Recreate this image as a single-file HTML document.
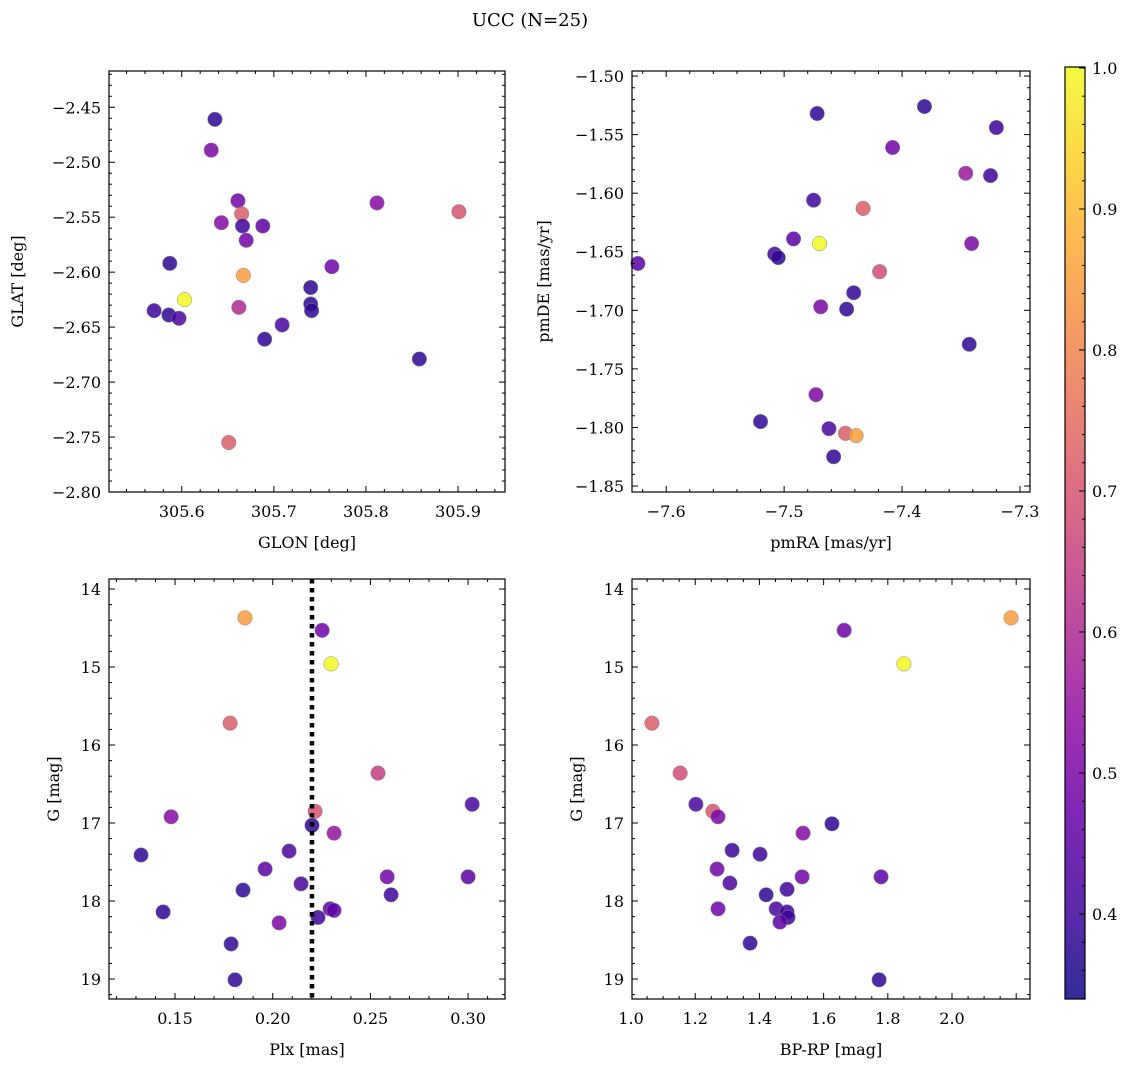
<!DOCTYPE html>
<html><head><meta charset="utf-8"><style>
body{margin:0;background:#fff;}
svg{display:block;font-family:"DejaVu Serif","Liberation Serif",serif;}
</style></head><body>
<svg id="fig" width="1136" height="1067" viewBox="0 0 1136 1067" xmlns="http://www.w3.org/2000/svg">
<defs><linearGradient id="plasma" x1="0" y1="1" x2="0" y2="0"></linearGradient></defs>
<text x="530" y="26" font-size="18" text-anchor="middle">UCC (N=25)</text>
</svg>
<script>
// Panel 1: GLON vs GLAT
const glon = [305.636,305.632,305.661,305.643,305.665,305.666,305.688,305.670,305.667,305.587,305.603,305.570,305.586,305.597,305.662,305.709,305.690,305.740,305.740,305.741,305.763,305.812,305.901,305.858,305.651];
const glat = [-2.461,-2.489,-2.535,-2.555,-2.547,-2.558,-2.558,-2.571,-2.603,-2.592,-2.625,-2.635,-2.639,-2.642,-2.632,-2.648,-2.661,-2.614,-2.629,-2.635,-2.595,-2.537,-2.545,-2.679,-2.755];
const prob1 = [0.38,0.5,0.48,0.52,0.72,0.4,0.45,0.48,0.85,0.38,1.0,0.4,0.38,0.42,0.6,0.42,0.38,0.38,0.38,0.38,0.48,0.52,0.7,0.38,0.72];
// Panel 2: pmRA vs pmDE
const pmra = [-7.472,-7.381,-7.320,-7.408,-7.346,-7.325,-7.475,-7.433,-7.470,-7.492,-7.508,-7.505,-7.341,-7.624,-7.419,-7.441,-7.447,-7.469,-7.343,-7.473,-7.520,-7.462,-7.448,-7.439,-7.458];
const pmde = [-1.532,-1.526,-1.544,-1.561,-1.583,-1.585,-1.606,-1.613,-1.643,-1.639,-1.652,-1.655,-1.643,-1.660,-1.667,-1.685,-1.699,-1.697,-1.729,-1.772,-1.795,-1.801,-1.805,-1.807,-1.825];
const prob2 = [0.38,0.38,0.4,0.48,0.56,0.4,0.4,0.72,1.0,0.45,0.4,0.38,0.5,0.45,0.68,0.38,0.38,0.5,0.38,0.5,0.38,0.42,0.72,0.85,0.38];
// Panel 3: Plx vs G
const plx = [0.1858,0.2253,0.2299,0.1782,0.2539,0.2217,0.1480,0.3021,0.2201,0.2314,0.1326,0.2084,0.1961,0.2145,0.1848,0.2586,0.3000,0.2606,0.1439,0.2294,0.2314,0.2232,0.2033,0.1787,0.1807];
const gmag3 = [14.37,14.53,14.96,15.72,16.36,16.85,16.92,16.76,17.03,17.13,17.41,17.36,17.59,17.78,17.86,17.69,17.69,17.92,18.14,18.10,18.12,18.21,18.28,18.55,19.01];
const prob3 = [0.85,0.48,1.0,0.72,0.65,0.7,0.52,0.42,0.38,0.55,0.38,0.42,0.45,0.42,0.38,0.48,0.45,0.4,0.38,0.45,0.45,0.4,0.5,0.38,0.38];
const plxMedian = 0.2201;
// Panel 4: BP-RP vs G
const bprp = [2.184,1.664,1.850,1.065,1.153,1.202,1.255,1.271,1.626,1.536,1.315,1.402,1.268,1.533,1.779,1.308,1.486,1.421,1.452,1.486,1.271,1.489,1.464,1.371,1.773];
const gmag4 = [14.37,14.53,14.96,15.72,16.36,16.76,16.85,16.92,17.01,17.13,17.35,17.40,17.59,17.69,17.69,17.77,17.85,17.92,18.10,18.14,18.10,18.21,18.27,18.54,19.01];
const prob4 = [0.85,0.48,1.0,0.72,0.68,0.42,0.7,0.5,0.38,0.52,0.4,0.4,0.48,0.48,0.45,0.42,0.4,0.38,0.42,0.4,0.48,0.4,0.45,0.38,0.38];
// Colorbar
const cbTicks = [0.4,0.5,0.6,0.7,0.8,0.9,1.0];
const vmin = 0.3397, vmax = 1.0007;

const NS = "http://www.w3.org/2000/svg";
const svg = document.getElementById('fig');
const plasma = [[13,8,135],[65,4,157],[106,0,168],[143,13,164],[177,42,144],[204,71,120],[225,100,98],[242,132,75],[252,166,54],[252,206,37],[240,249,33]];
function cmap(t){t=Math.max(0,Math.min(1,t));const f=t*10,i=Math.min(9,Math.floor(f)),r=f-i;const a=plasma[i],b=plasma[i+1];return `rgb(${a.map((v,k)=>Math.round(v+(b[k]-v)*r)).join(',')})`;}
function el(tag,attrs,parent){const e=document.createElementNS(NS,tag);for(const k in attrs)e.setAttribute(k,attrs[k]);(parent||svg).appendChild(e);return e;}
function fmt(v,d){const s=Math.abs(v).toFixed(d);return (v<-1e-9?'\u2212':'')+s;}

function panel(o){
  const g=el('g',{});
  
  
  const X=v=>o.x0+(v-o.xmin)/(o.xmax-o.xmin)*(o.x1-o.x0);
  const Y=v=>o.invert? o.y0+(v-o.ymin)/(o.ymax-o.ymin)*(o.y1-o.y0) : o.y1-(v-o.ymin)/(o.ymax-o.ymin)*(o.y1-o.y0);
  for(let i=0;i<o.xs.length;i++){
    const c=el('circle',{cx:X(o.xs[i]),cy:Y(o.ys[i]),r:7.3,fill:cmap((o.ps[i]-vmin)/(vmax-vmin)),'fill-opacity':0.85,stroke:'#888','stroke-width':0.5},g);
    
    
  }
  if(o.vline!==undefined){
    const l=el('line',{x1:X(o.vline),x2:X(o.vline),y1:o.y0,y2:o.y1,stroke:'#000','stroke-width':4.5,'stroke-dasharray':'4.5,4.5'},g);
    
    
  }
  const tg=el('g',{stroke:'#000','stroke-width':1},g);
  const eps=1e-9;
  for(let v=Math.ceil(o.xmin/o.xmi-eps)*o.xmi; v<=o.xmax+eps; v+=o.xmi){
    const x=X(v);const major=Math.abs(v/o.xma-Math.round(v/o.xma))<1e-6;const L=major?6:3;
    el('line',{x1:x,x2:x,y1:o.y1,y2:o.y1-L},tg);el('line',{x1:x,x2:x,y1:o.y0,y2:o.y0+L},tg);
  }
  for(let v=Math.ceil(o.ymin/o.ymi-eps)*o.ymi; v<=o.ymax+eps; v+=o.ymi){
    const y=Y(v);const major=Math.abs(v/o.yma-Math.round(v/o.yma))<1e-6;const L=major?6:3;
    el('line',{x1:o.x0,x2:o.x0+L,y1:y,y2:y},tg);el('line',{x1:o.x1,x2:o.x1-L,y1:y,y2:y},tg);
  }
  for(const v of o.xt){const t=el('text',{x:X(v),y:o.y1+25,'font-size':16,'text-anchor':'middle'},g);t.textContent=fmt(v,o.xd);
    }
  for(const v of o.yt){const t=el('text',{x:o.x0-8,y:Y(v)+6,'font-size':16,'text-anchor':'end'},g);t.textContent=fmt(v,o.yd);
    }
  const fr=el('rect',{x:o.x0,y:o.y0,width:o.x1-o.x0,height:o.y1-o.y0,fill:'none',stroke:'#000','stroke-width':1.2},g);
  
  const xl=el('text',{x:(o.x0+o.x1)/2,y:o.y1+56,'font-size':16,'text-anchor':'middle'},g);xl.textContent=o.xlabel;
  
  const cy=(o.y0+o.y1)/2;
  const yl=el('text',{x:o.ylx,y:cy,'font-size':16,'text-anchor':'middle',transform:`rotate(-90 ${o.ylx} ${cy})`},g);yl.textContent=o.ylabel;
  
}

panel({name:'glon-glat-panel',x0:109,x1:505,y0:71,y1:492,xmin:305.521,xmax:305.951,ymin:-2.80,ymax:-2.417,xs:glon,ys:glat,ps:prob1,
  xma:0.1,xmi:0.02,yma:0.05,ymi:0.01,xt:[305.6,305.7,305.8,305.9],xd:1,yt:[-2.45,-2.5,-2.55,-2.6,-2.65,-2.7,-2.75,-2.8],yd:2,xlabel:'GLON [deg]',ylabel:'GLAT [deg]',ylx:23});
panel({name:'pm-panel',x0:632,x1:1030,y0:71,y1:492,xmin:-7.629,xmax:-7.2915,ymin:-1.8551,ymax:-1.4957,xs:pmra,ys:pmde,ps:prob2,
  xma:0.1,xmi:0.02,yma:0.05,ymi:0.01,xt:[-7.6,-7.5,-7.4,-7.3],xd:1,yt:[-1.5,-1.55,-1.6,-1.65,-1.7,-1.75,-1.8,-1.85],yd:2,xlabel:'pmRA [mas/yr]',ylabel:'pmDE [mas/yr]',ylx:549});
panel({name:'plx-g-panel',x0:109,x1:505,y0:579,y1:999,xmin:0.1162,xmax:0.3189,ymin:13.872,ymax:19.256,invert:true,xs:plx,ys:gmag3,ps:prob3,vline:plxMedian,
  xma:0.05,xmi:0.01,yma:1,ymi:0.2,xt:[0.15,0.2,0.25,0.3],xd:2,yt:[14,15,16,17,18,19],yd:0,xlabel:'Plx [mas]',ylabel:'G [mag]',ylx:59});
panel({name:'cmd-panel',x0:632,x1:1030,y0:579,y1:999,xmin:1.003,xmax:2.243,ymin:13.872,ymax:19.256,invert:true,xs:bprp,ys:gmag4,ps:prob4,
  xma:0.2,xmi:0.05,yma:1,ymi:0.2,xt:[1.0,1.2,1.4,1.6,1.8,2.0],xd:1,yt:[14,15,16,17,18,19],yd:0,xlabel:'BP-RP [mag]',ylabel:'G [mag]',ylx:582});

const grad=document.getElementById('plasma');
for(let i=0;i<=10;i++){el('stop',{offset:(i*10)+'%','stop-color':cmap(i/10),'stop-opacity':0.85},grad);}
const cb0=67,cb1=999,cbx=1065,cbw=20;
const CY=v=>cb1-(v-vmin)/(vmax-vmin)*(cb1-cb0);
const cbg=el('g',{});


el('rect',{x:cbx,y:cb0,width:cbw,height:cb1-cb0,fill:'url(#plasma)',stroke:'#000','stroke-width':1.2},cbg);
for(let v=0.34;v<=1.0001;v+=0.02){const y=CY(v);const major=Math.abs(v*10-Math.round(v*10))<1e-6;el('line',{x1:cbx+cbw,x2:cbx+cbw-(major?6:3),y1:y,y2:y,stroke:'#000'},cbg);}
for(const v of cbTicks){const t=el('text',{x:cbx+cbw+7,y:CY(v)+6,'font-size':16},cbg);t.textContent=v.toFixed(1);
  }
</script>
</body></html>
